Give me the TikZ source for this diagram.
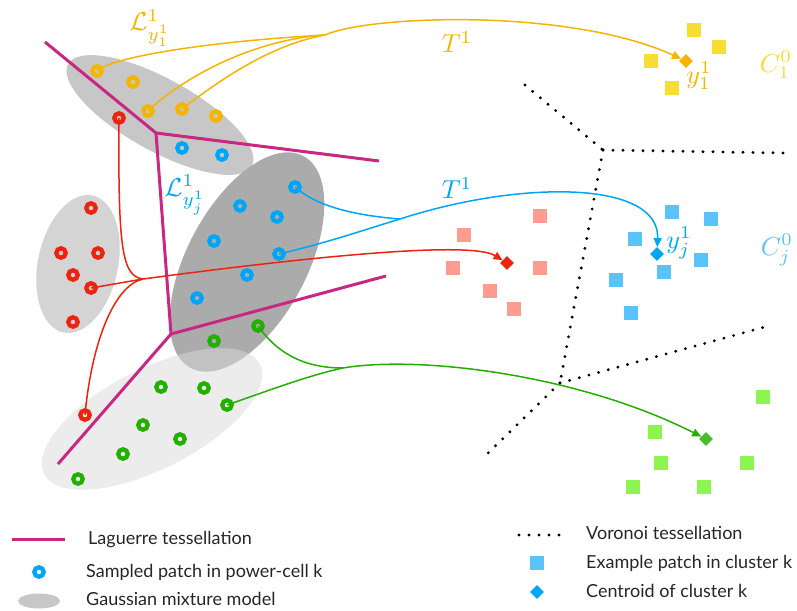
\documentclass[tikz,border=0pt]{standalone}
\usepackage{fontspec}
\newfontfamily\legendfont{Lato}
\usetikzlibrary{shapes.geometric,arrows.meta}

\definecolor{tessmag}{RGB}{200,40,130}
\definecolor{ylwdark}{RGB}{245,180,0}
\definecolor{ylwlight}{RGB}{248,222,50}
\definecolor{bluedark}{RGB}{0,165,245}
\definecolor{bluelight}{RGB}{90,195,250}
\definecolor{reddark}{RGB}{235,35,15}
\definecolor{redlight}{RGB}{255,155,145}
\definecolor{greendark}{RGB}{35,175,0}
\definecolor{greenlight}{RGB}{140,245,80}
\definecolor{greenmid}{RGB}{70,190,40}

\begin{document}
\begin{tikzpicture}[x=1pt,y=-1pt,
  gmm/.style={ellipse, inner sep=0pt, draw=none},
  ring/.style={circle, draw=#1, line width=4.3pt, minimum size=9.4pt, inner sep=0pt},
  patch/.style={rectangle, fill=#1, minimum size=13.5pt, inner sep=0pt},
  centroid/.style={diamond, fill=#1, minimum size=14pt, inner sep=0pt},
  laguerre/.style={draw=tessmag, line width=3pt},
  voronoi/.style={line width=3.2pt, line cap=round, dash pattern=on 0pt off 10pt},
  flow/.style={draw=#1, line width=1.5pt},
  flowarrow/.style={draw=#1, line width=1.5pt, -{Triangle[length=9pt,width=8pt]}},
  mathlbl/.style={text=#1, scale=2.6, inner sep=0pt},
  legend/.style={anchor=west, font=\legendfont\fontsize{18}{21}\selectfont, text=black!85, inner sep=0pt},
]
\useasboundingbox (0,0) rectangle (797,610);

% Gaussian mixture components
\node[gmm, fill=black!22, minimum width=210pt, minimum height=72pt, rotate=-29] (g1) at (160,115) {};
\node[gmm, fill=black!17, minimum width=80pt, minimum height=140pt, rotate=-12] (g2) at (78,264) {};
\node[gmm, fill=black!33, minimum width=240pt, minimum height=120pt, rotate=62] (g3) at (247,262) {};
\node[gmm, fill=black!15, fill opacity=0.51, minimum width=242pt, minimum height=100pt, rotate=27] (g4) at (152,419) {};

% Laguerre tessellation
\coordinate (j1) at (156,133);
\coordinate (j2) at (171,334);
\coordinate (l1) at (45,42);
\coordinate (l2) at (379,161);
\coordinate (l3) at (386,276);
\coordinate (l4) at (58,464);
\draw[laguerre] (l1) -- (j1) -- (l2);
\draw[laguerre] (j1) -- (j2) -- (l3);
\draw[laguerre] (j2) -- (l4);

% Voronoi tessellation
\coordinate (v1) at (603,150);
\coordinate (v2) at (560,383);
\coordinate (w1) at (525,85);
\coordinate (w2) at (783,153);
\coordinate (w3) at (772,325);
\coordinate (w4) at (484,457);
\draw[voronoi] (w1) -- (v1);
\draw[voronoi] (v1) -- (w2);
\draw[voronoi] (v1) -- (v2);
\draw[voronoi] (v2) -- (w3);
\draw[voronoi] (v2) -- (w4);

% cluster patches
\foreach \p [count=\i] in {(694,30),(719,47),(651,61),(672,88)}
  \node[patch=ylwlight] (sy\i) at \p {};
\foreach \p [count=\i] in {(672,212),(711,219),(635,239),(701,260),(664,272),(616,280),(631,313)}
  \node[patch=bluelight] (sb\i) at \p {};
\foreach \p [count=\i] in {(540,216),(464,235),(453,268),(540,268),(490,291),(514,309)}
  \node[patch=redlight] (sr\i) at \p {};
\foreach \p [count=\i] in {(763,397),(655,432),(661,463),(747,463),(633,487),(704,487)}
  \node[patch=greenlight] (sg\i) at \p {};

% sampled patches
\foreach \p [count=\i] in {(97,71),(133,82),(148,111),(182,109),(216,116)}
  \node[ring=ylwdark] (yr\i) at \p {};
\foreach \p [count=\i] in {(119,118),(91,208),(61,253),(98,253),(73,275),(91,288),(73,322),(85,415)}
  \node[ring=reddark] (rr\i) at \p {};
\foreach \p [count=\i] in {(182,148),(222,155),(295,187),(240,206),(277,217),(214,241),(279,254),(247,275),(197,298)}
  \node[ring=bluedark] (br\i) at \p {};
\foreach \p [count=\i] in {(258,326),(214,341),(161,387),(204,388),(227,405),(143,425),(180,439),(123,454),(78,479)}
  \node[ring=greendark] (gr\i) at \p {};

% centroids
\node[centroid=ylwdark] (dY) at (686,61) {};
\node[centroid=bluedark] (dB) at (657,254) {};
\node[centroid=reddark] (dR) at (507,263) {};
\node[centroid=greenmid] (dG) at (706,439) {};

% transport maps
\coordinate (mY) at (325,35);
\draw[flow=ylwdark] (yr1.center) .. controls (110,58) and (200,42) .. (mY);
\draw[flow=ylwdark] (yr3.center) .. controls (180,80) and (250,40) .. (mY);
\draw[flow=ylwdark] (yr4.center) .. controls (220,80) and (270,45) .. (mY);
\draw[flowarrow=ylwdark] (mY) .. controls (370,15) and (570,8) .. (dY);

\coordinate (mR) at (143,279);
\draw[flow=reddark] (rr1.center) .. controls (118,250) and (122,276) .. (mR);
\draw[flow=reddark] (rr6.center) -- (mR);
\draw[flow=reddark] (rr8.center) .. controls (92,340) and (115,285) .. (mR);
\draw[flowarrow=reddark] (mR) .. controls (300,258) and (470,240) .. (dR);

\coordinate (mB) at (400,219);
\draw[flow=bluedark] (br3.center) .. controls (315,205) and (350,215) .. (mB);
\draw[flow=bluedark] (br7.center) .. controls (330,242) and (370,228) .. (mB);
\draw[flowarrow=bluedark] (mB) .. controls (520,180) and (660,180) .. (dB);

\coordinate (mG) at (343,368);
\draw[flow=greendark] (gr1.center) .. controls (275,350) and (300,368) .. (mG);
\draw[flow=greendark] (gr5.center) .. controls (270,390) and (310,375) .. (mG);
\draw[flowarrow=greendark] (mG) .. controls (420,355) and (580,375) .. (dG);

% labels
\node[mathlbl=ylwdark] (lL1) at (150,28) {$\mathcal{L}^1_{y^1_1}$};
\node[mathlbl=bluedark] (lLj) at (185,195) {$\mathcal{L}^1_{y^1_j}$};
\node[mathlbl=ylwdark] (lT1) at (457,42) {$T^1$};
\node[mathlbl=bluedark] (lTj) at (457,188) {$T^1$};
\node[mathlbl=ylwdark] (ly1) at (699,76) {$y^1_1$};
\node[mathlbl=bluedark] (lyj) at (679,243) {$y^1_j$};
\node[mathlbl=ylwlight] (lC1) at (776,65) {$C^0_1$};
\node[mathlbl=bluelight] (lCj) at (777,250) {$C^0_j$};

% legend
\coordinate (kl1) at (12,539);
\coordinate (kl2) at (65,539);
\draw[laguerre] (kl1) -- (kl2);
\node[legend] (t1) at (88,540) {Laguerre tessellation};
\node[ring=bluedark] (kr) at (39,572) {};
\node[legend] (t2) at (86,572) {Sampled patch in power-cell k};
\node[gmm, fill=black!22, minimum width=42pt, minimum height=15pt] (kg) at (39,601) {};
\node[legend] (t3) at (86,599) {Gaussian mixture model};

\coordinate (kv1) at (519,535);
\coordinate (kv2) at (560,535);
\draw[voronoi] (kv1) -- (kv2);
\node[legend] (t4) at (586,533) {Voronoi tessellation};
\node[patch=bluelight] (kp) at (537,563) {};
\node[legend] (t5) at (586,563) {Example patch in cluster k};
\node[centroid=bluedark] (kd) at (537,592) {};
\node[legend] (t6) at (586,591) {Centroid of cluster k};
\end{tikzpicture}
\end{document}
